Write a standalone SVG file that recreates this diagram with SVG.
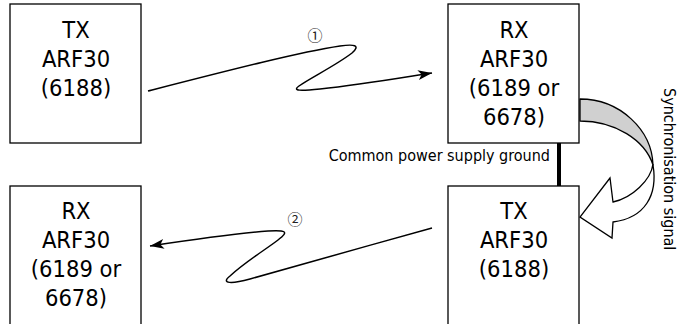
<svg xmlns="http://www.w3.org/2000/svg" width="678" height="324" viewBox="0 0 678 324">
<style>
.box{fill:#fff;stroke:#000;stroke-width:1.3}
.big{font-family:'DejaVu Sans Condensed','DejaVu Sans',sans-serif;font-stretch:condensed;font-size:23.5px;fill:#000;text-anchor:middle}
.small{font-family:'DejaVu Sans Condensed','DejaVu Sans',sans-serif;font-stretch:condensed;font-size:16px;fill:#000}
.num{font-family:'Noto Sans CJK JP','DejaVu Sans',sans-serif;font-size:15px;fill:#222;text-anchor:middle}
.wave{fill:none;stroke:#000;stroke-width:1.5}
</style>
<defs>
<marker id="ah" markerUnits="userSpaceOnUse" markerWidth="16" markerHeight="12" refX="14" refY="5" orient="auto">
<path d="M0,0 L14,5 L0,10 L3.5,5 Z" fill="#000"/>
</marker>
</defs>
<g id="tx1">
<rect class="box" x="10" y="4" width="131" height="139"/>
<text class="big" x="76" y="38">TX</text>
<text class="big" x="76" y="67">ARF30</text>
<text class="big" x="76" y="96">(6188)</text>
</g>
<g id="rx1">
<rect class="box" x="448" y="4" width="131" height="139"/>
<text class="big" x="514" y="38">RX</text>
<text class="big" x="514" y="67">ARF30</text>
<text class="big" x="514" y="96">(6189 or</text>
<text class="big" x="514" y="125">6678)</text>
</g>
<g id="tx2">
<rect class="box" x="448" y="186" width="131" height="150"/>
<text class="big" x="514" y="219">TX</text>
<text class="big" x="514" y="248">ARF30</text>
<text class="big" x="514" y="277">(6188)</text>
</g>
<g id="rx2">
<rect class="box" x="10" y="186" width="131" height="150"/>
<text class="big" x="76" y="219">RX</text>
<text class="big" x="76" y="248">ARF30</text>
<text class="big" x="76" y="277">(6189 or</text>
<text class="big" x="76" y="306">6678)</text>
</g>
<g id="connectors">
<path class="wave" marker-end="url(#ah)" d="M148,91 C230,70 300,52 340,46 C354,44 361,45 352,53 C335,66 310,78 299,86 C292,91 300,91 320,89 C360,85 400,78 432,73"/>
<path class="wave" marker-end="url(#ah)" d="M432,228 C370,245 290,268 250,279 C232,284 220,284 230,276 C245,262 265,250 278,240 C290,231 285,230 268,231 C230,234 190,240 150,246"/>
<rect x="557" y="143" width="4" height="43" fill="#000"/>
<text class="num" x="315" y="41">①</text>
<text class="num" x="295" y="224.5">②</text>
<text class="small" x="550" y="161" text-anchor="end">Common power supply ground</text>
<g id="sync">
<path d="M580,99 C620,99 652,130 653,165 C645,140 615,121 580,121 Z" fill="#d0d0d0" stroke="#000" stroke-width="1.3" stroke-linejoin="round"/>
<path d="M653,164 C651,180 632,198 613,202 L610,178 L580,217 L612,238 L613,222 C645,218 658,195 653,165 Z" fill="#fff" stroke="#000" stroke-width="1.3" stroke-linejoin="miter"/>
<text class="small" transform="translate(664,88) rotate(90)">Synchronisation signal</text>
</g>
</g>
</svg>
